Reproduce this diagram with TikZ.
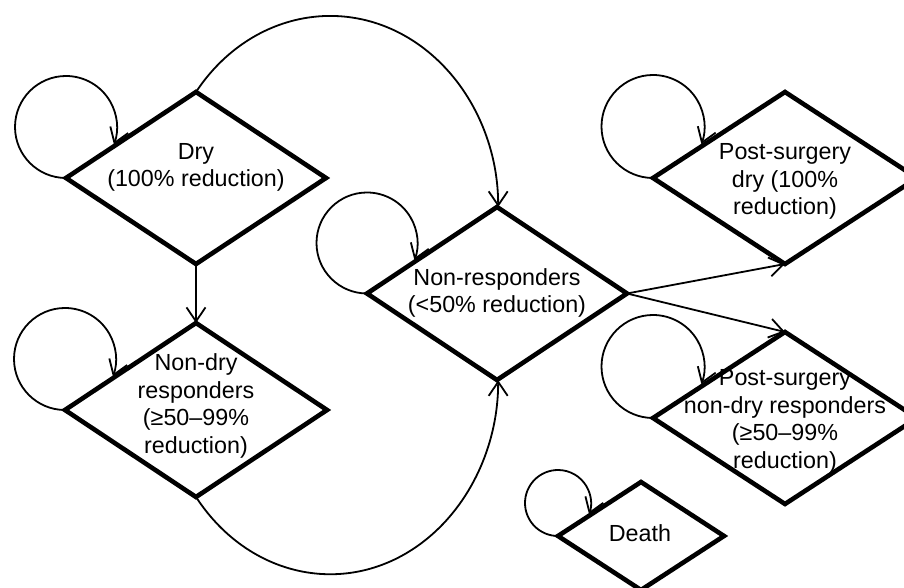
\documentclass[tikz,border=0pt]{standalone}
\usepackage{fontspec}
\setmainfont{Liberation Sans}
\usetikzlibrary{shapes.geometric,arrows.meta}
\begin{document}
\begin{tikzpicture}[x=1pt,y=1pt,
  stbox/.style={draw, diamond, line width=4.6pt, inner sep=0pt, outer sep=0pt},
  lbl/.style={align=center, inner sep=0pt, font=\fontsize{23.3}{27.5}\selectfont},
  conn/.style={line width=1.8pt, -{Straight Barb[length=14pt,width=19pt]}}
]
\useasboundingbox (0,0) rectangle (904,588);
\fill[white] (0,0) rectangle (904,588);

% diamonds
\node[stbox, minimum width=260pt, minimum height=172pt] (dry) at (196,410) {};
\node[stbox, minimum width=262pt, minimum height=174pt] (nondry) at (196,178) {};
\node[stbox, minimum width=260pt, minimum height=173pt] (nonresp) at (497,294.5) {};
\node[stbox, minimum width=264pt, minimum height=172pt] (psdry) at (785,410) {};
\node[stbox, minimum width=264pt, minimum height=172pt] (psnd) at (785,170) {};
\node[stbox, minimum width=166pt, minimum height=108pt] (death) at (641,52) {};

% texts
\node[lbl] (drytext) at (196,420.5) {Dry\\(100\% reduction)};
\node[lbl] (nondrytext) at (196,182) {Non-dry\\responders\\(≥50–99\%\\reduction)};
\node[lbl] (nonresptext) at (497,295) {Non-responders\\(<50\% reduction)};
\node[lbl] (psdrytext) at (785,406.5) {Post-surgery\\dry (100\%\\reduction)};
\node[lbl] (psndtext) at (785,166.5) {Post-surgery\\non-dry responders\\(≥50–99\%\\reduction)};
\node[lbl] (deathtext) at (640,55) {Death};

% self loops
\draw[conn] (dry.west) arc[start angle=270, end angle=-20, radius=51];
\draw[conn] (nondry.west) arc[start angle=270, end angle=-20, radius=51];
\draw[conn] (nonresp.west) arc[start angle=270, end angle=-20, radius=50.5];
\draw[conn] (psdry.west) arc[start angle=270, end angle=-20, radius=51.5];
\draw[conn] (psnd.west) arc[start angle=270, end angle=-20, radius=51.5];
\draw[conn] (death.west) arc[start angle=270, end angle=-20, radius=33];

% transitions
\draw[conn] (dry.south) -- (nondry.north);
\draw[conn] (dry.north) arc[start angle=143, end angle=0, x radius=168, y radius=191];
\draw[conn] (nondry.south) arc[start angle=-143, end angle=0, x radius=168, y radius=194];
\draw[conn] (nonresp.east) -- (psdry.south);
\draw[conn] (nonresp.east) -- (psnd.north);
\end{tikzpicture}
\end{document}
